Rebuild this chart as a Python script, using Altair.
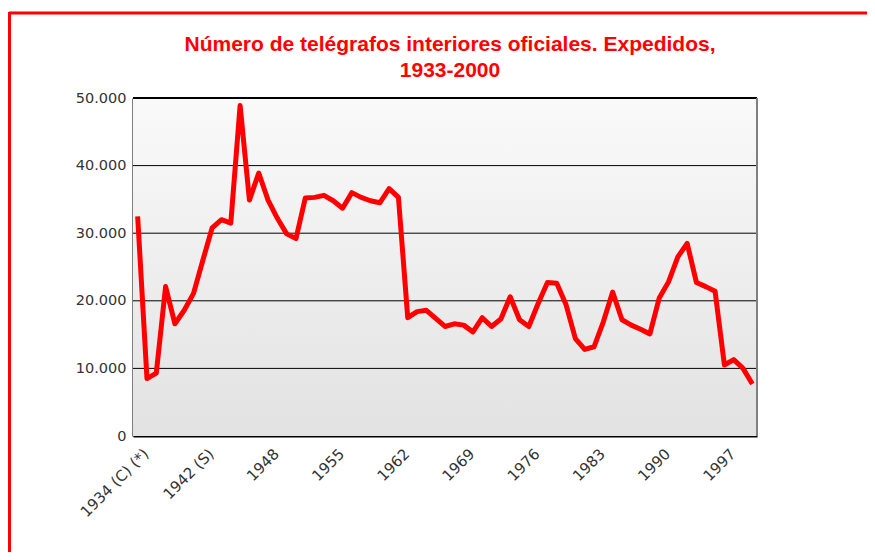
import altair as alt
import pandas as pd

categories = (
    ["1934 (C) (*)", "1935 (C)", "1936 (C)", "1937 (C)", "1940 (S)",
     "1941 (S)", "1941 (C)", "1942 (S)", "1942 (C)"]
    + [str(y) for y in range(1943, 2001)]
)
values = [
    32500, 8500, 9300, 22100, 16600, 18600, 21100, 26000, 30800, 32000,
    31500, 48900, 34900, 38900, 34900, 32200, 29900, 29200, 35200, 35300,
    35600, 34800, 33700, 36000, 35300, 34800, 34500, 36600, 35300, 17500,
    18400, 18600, 17400, 16200, 16600, 16400, 15400, 17500, 16200, 17300,
    20600, 17200, 16200, 19600, 22700, 22600, 19400, 14400, 12800, 13200,
    16900, 21300, 17200, 16400, 15800, 15100, 20400, 22800, 26500, 28500,
    22700, 22100, 21400, 10500, 11300, 10000, 7700,
]
label_years = ["1934 (C) (*)", "1942 (S)", "1948", "1955", "1962",
               "1969", "1976", "1983", "1990", "1997"]
y_ticks = [0, 10000, 20000, 30000, 40000, 50000]
grid_values = [10000, 20000, 30000, 40000]
title_lines = ["Número de telégrafos interiores oficiales. Expedidos,", "1933-2000"]

W, H = 624, 338
PL, PT, PR, PB = 125, 90, 110, 116

df = pd.DataFrame({"periodo": categories, "valor": values})
grid_df = pd.DataFrame({"valor": grid_values})
one = alt.Data(values=[{}])

FONT = "DejaVu Sans"
yscale = alt.Scale(domain=[0, 50000], nice=False)
yaxis = alt.Axis(
    values=y_ticks, grid=False, ticks=False, labelPadding=7,
    domainColor="#000000", domainWidth=2, title=None,
    labelFont=FONT, labelFontSize=14.5, labelColor="#333333",
    labelExpr="replace(format(datum.value, ',d'), ',', '.')",
)

background = alt.Chart(one).mark_rect(
    color=alt.LinearGradient(
        gradient="linear", x1=0, y1=0, x2=0, y2=1,
        stops=[alt.GradientStop(color="#fafafa", offset=0),
               alt.GradientStop(color="#e2e2e2", offset=1)],
    )
).encode(x=alt.value(0), x2=alt.value(W), y=alt.value(0), y2=alt.value(H))

grid = alt.Chart(grid_df).mark_rule(color="#000000", strokeWidth=1).encode(
    y=alt.Y("valor:Q", scale=yscale, axis=yaxis)
)

line = alt.Chart(df).mark_line(color="#ff0000", strokeWidth=5, strokeJoin="round").encode(
    x=alt.X(
        "periodo:O", sort=categories,
        scale=alt.Scale(type="point", padding=0.5),
        axis=alt.Axis(
            values=label_years, labelAngle=315, labelAlign="right",
            labelBaseline="top", labelPadding=10, labelOffset=3, ticks=False,
            domainColor="#000000", domainWidth=2, title=None, labelOverlap=False,
            labelFont=FONT, labelFontSize=15, labelColor="#333333",
        ),
    ),
    y=alt.Y("valor:Q", scale=yscale, axis=yaxis),
)

top_rule = alt.Chart(one).mark_rule(color="#000000", strokeWidth=2).encode(
    x=alt.value(0), x2=alt.value(W), y=alt.value(0)
)
right_rule = alt.Chart(one).mark_rule(color="#808080", strokeWidth=2).encode(
    x=alt.value(W), y=alt.value(0), y2=alt.value(H)
)
frame_top = alt.Chart(one).mark_rule(color="#ff0000", strokeWidth=3).encode(
    x=alt.value(-PL + 1), x2=alt.value(W + PR), y=alt.value(-PT + 5)
)
frame_left = alt.Chart(one).mark_rule(color="#ff0000", strokeWidth=3).encode(
    x=alt.value(-PL + 1.5), y=alt.value(-PT + 4), y2=alt.value(H + PB)
)
title = alt.Chart(one).mark_text(
    text=title_lines, color="#ff0000", font="Liberation Sans", fontSize=21,
    fontWeight="bold", align="center", baseline="alphabetic", lineHeight=26,
).encode(x=alt.value(317), y=alt.value(-47))

chart = alt.layer(
    background, grid, line, top_rule, right_rule, frame_top, frame_left, title
).properties(
    width=W, height=H,
    autosize=alt.AutoSizeParams(type="none"),
    padding={"left": PL, "top": PT, "right": PR, "bottom": PB},
).configure_view(stroke=None).configure(background="#ffffff")

chart.save("out.html", embed_options={"renderer": "svg", "actions": False})
